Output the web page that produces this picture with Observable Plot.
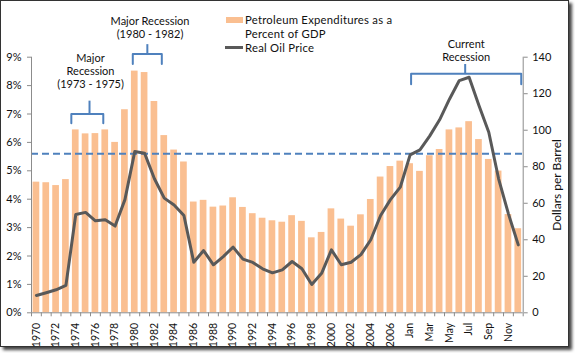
<!DOCTYPE html>
<html>
<head>
<meta charset="utf-8">
<script src="https://cdn.jsdelivr.net/npm/d3@7"></script>
<script src="https://cdn.jsdelivr.net/npm/@observablehq/plot@0.6"></script>
<style>
  html, body { margin: 0; padding: 0; background: #fff; }
  body { width: 575px; height: 353px; position: relative; overflow: hidden; font-family: Lato, "Noto Sans", sans-serif; }
  #frame { position: absolute; left: 0; top: 0; width: 567px; height: 345px; border: 1px solid #333; box-shadow: 3px 3px 3px #444; background: #fff; }
  #chart { position: absolute; left: 0; top: 0; }
  #chart svg { overflow: visible; background: transparent; }
  .leg { position: absolute; font-size: 11.3px; line-height: 1.2; letter-spacing: 0.25px; color: #111; white-space: nowrap; }
  .sw { position: absolute; }
  #ytitle { position: absolute; left: 556px; top: 185px; transform: translate(-50%, -50%) rotate(-90deg); font-size: 12px; white-space: nowrap; color: #111; }
</style>
</head>
<body>
<div id="frame"></div>
<div id="chart"></div>
<div class="sw" style="left:226px; top:17px; width:17px; height:6px; background:#FABF91;"></div>
<div class="sw" style="left:225px; top:46px; width:18px; height:3px; background:#595959;"></div>
<div class="leg" style="left:245px; top:13.3px;">Petroleum Expenditures as a</div>
<div class="leg" style="left:245px; top:27.3px;">Percent of GDP</div>
<div class="leg" style="left:245px; top:41.1px;">Real Oil Price</div>
<div id="ytitle">Dollars per Barrel</div>
<script>
// Categories: annual 1970-2007, then monthly 2008
const years = d3.range(1970, 2008).map(String);
const months = ["Jan","Feb","Mar","Apr","May","Jun","Jul","Aug","Sep","Oct","Nov","Dec"];
const categories = [...years, ...months];

// Petroleum expenditures as a percent of GDP
const petroleumPct = [
  4.60, 4.58, 4.48, 4.69, 6.44, 6.30, 6.31, 6.44, 6.00, 7.15,
  8.51, 8.46, 7.44, 6.24, 5.73, 5.31, 3.90, 3.96, 3.72, 3.76,
  4.05, 3.71, 3.49, 3.33, 3.24, 3.19, 3.42, 3.22, 2.64, 2.83,
  3.66, 3.30, 3.05, 3.45, 3.99, 4.78, 5.15, 5.34,
  5.25, 4.98, 5.53, 5.75, 6.44, 6.51, 6.73, 6.10, 5.40, 4.99, 3.46, 2.96
];

// Real oil price, dollars per barrel
const oilPrice = [
  9.5, 11, 12.6, 15, 53.8, 55, 50.4, 51, 47.5, 62,
  88.3, 87.4, 73.4, 62.8, 59, 53.3, 27.7, 34.1, 26.3, 30.8,
  36, 29.4, 27.6, 24.1, 21.9, 23.5, 28.1, 24.1, 15.5, 21.6,
  34.5, 26.3, 27.7, 31.9, 40, 53.3, 62, 68.8,
  86.5, 89.2, 96.9, 105.7, 117, 127.2, 129, 113.5, 98.9, 73.4, 54.2, 37.2
];

// Axis ticks
const pctTicks = [0,1,2,3,4,5,6,7,8,9];
const dollarTicks = [0,20,40,60,80,100,120,140];
const averagePct = 5.6;

// Recession annotations (category-index / percent units)
const recessionLabels = ["Major\nRecession\n(1973 - 1975)", "Major Recession\n(1980 - 1982)", "Current\nRecession"];
const bracketLeft = [3.55, 9.8, 38.1];
const bracketRight = [6.8, 12.75, 49.3];
const bracketCenter = [5.4, 11.28, 43.6];
const bracketTop = [7.0, 9.11, 8.42];
const bracketLeg = [6.67, 8.76, 8.05];
const bracketTick = [7.47, 9.46, 8.76];
const labelX = [5.5, 11.55, 43.7];
const labelY = [8.52, 10.05, 9.23];

const pctMax = 9, dollarMax = 140;
const toPct = d => d * pctMax / dollarMax;

const data = categories.map((c, i) => ({i, c, pct: petroleumPct[i], price: oilPrice[i]}));
const brackets = recessionLabels.map((t, k) => ({k}));
const bracketPaths = [];
brackets.forEach(({k}) => {
  const pts = [[bracketLeft[k], bracketLeg[k]], [bracketLeft[k], bracketTop[k]], [bracketRight[k], bracketTop[k]], [bracketRight[k], bracketLeg[k]]];
  pts.forEach(([x, y]) => bracketPaths.push({k, x, y}));
});
const labelIdx = categories.map((c, i) => i).filter(i => i % 2 === 0);
const bound = d3.range(categories.length + 1).map(i => i - 0.5);
const half = 0.34;

const axisColor = "#8c8c8c";
const chart = Plot.plot({
  width: 575,
  height: 353,
  marginLeft: 31,
  marginRight: 52.3,
  marginTop: 56.7,
  marginBottom: 40.7,
  style: {fontFamily: "Lato, 'Noto Sans', sans-serif", color: "#111", background: "transparent"},
  x: {type: "linear", domain: [-0.5, categories.length - 0.5]},
  y: {domain: [0, pctMax]},
  marks: [
    Plot.rectY(data, {x1: d => d.i - half, x2: d => d.i + half, y: "pct", fill: "#FABF91"}),
    Plot.ruleY([averagePct], {stroke: "#4F81BD", strokeWidth: 2, strokeDasharray: "7,4"}),
    Plot.line(data, {x: "i", y: d => toPct(d.price), stroke: "#595959", strokeWidth: 3, strokeLinejoin: "round"}),
    // axis lines
    Plot.ruleX([-0.5], {stroke: axisColor}),
    Plot.ruleX([categories.length - 0.5], {stroke: axisColor}),
    Plot.ruleY([0], {stroke: axisColor}),
    // x ticks at category boundaries
    Plot.axisX(bound, {tickFormat: () => "", tickSize: 4, stroke: axisColor, label: null}),
    Plot.axisX(labelIdx, {tickFormat: i => categories[i], tickSize: 0, tickPadding: 10, tickRotate: -90, fontSize: 10.5, label: null}),
    Plot.axisY(pctTicks, {anchor: "left", tickFormat: d => d + "%", tickSize: 4, tickPadding: 6, fontSize: 11, stroke: axisColor, label: null}),
    Plot.axisY(dollarTicks.map(toPct), {anchor: "right", tickFormat: d => String(Math.round(d * dollarMax / pctMax)), tickSize: 4, tickPadding: 5, fontSize: 11, stroke: axisColor, label: null}),
    // recession brackets
    Plot.line(bracketPaths, {x: "x", y: "y", z: "k", stroke: "#4F81BD", strokeWidth: 2}),
    Plot.link(brackets, {x1: d => bracketCenter[d.k], x2: d => bracketCenter[d.k], y1: d => bracketTop[d.k], y2: d => bracketTick[d.k], stroke: "#4F81BD", strokeWidth: 2}),
    Plot.text(brackets, {x: d => labelX[d.k], y: d => labelY[d.k], text: d => recessionLabels[d.k], fontSize: 11, lineHeight: 1.18, fill: "#111"})
  ]
});
document.getElementById("chart").appendChild(chart);
</script>
</body>
</html>
